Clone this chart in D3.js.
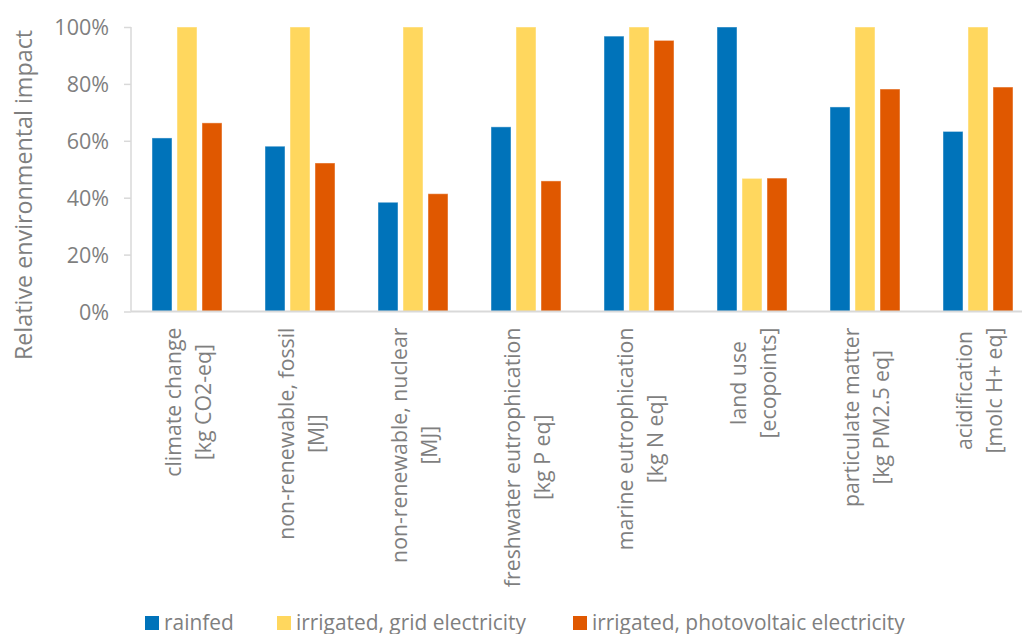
<!DOCTYPE html>
<html>
<head>
<meta charset="utf-8">
<script src="https://cdn.jsdelivr.net/npm/d3@7"></script>
<style>
  html, body { margin: 0; padding: 0; background: #fff; }
  svg { display: block; }
  svg text { font-family: "Open Sans", "Noto Sans", sans-serif; }
</style>
</head>
<body>
<svg id="chart" width="1022" height="634"></svg>
<script>
const categories = [
  ["climate change", "[kg CO2-eq]"],
  ["non-renewable, fossil", "[MJ]"],
  ["non-renewable, nuclear", "[MJ]"],
  ["freshwater eutrophication", "[kg P eq]"],
  ["marine eutrophication", "[kg N eq]"],
  ["land use", "[ecopoints]"],
  ["particulate matter", "[kg PM2.5 eq]"],
  ["acidification", "[molc H+ eq]"]
];
const seriesNames = ["rainfed", "irrigated, grid electricity", "irrigated, photovoltaic electricity"];
const rainfed = [61.0, 58.1, 38.4, 64.9, 96.8, 100, 71.9, 63.3];
const irrigatedGrid = [100, 100, 100, 100, 100, 46.8, 100, 100];
const irrigatedPV = [66.3, 52.2, 41.4, 45.9, 95.3, 46.9, 78.2, 78.9];
const yTicks = [0, 20, 40, 60, 80, 100];
const colors = ["#0073BA", "#FFD75E", "#E05800"];

const FONT = '"Open Sans", "Noto Sans", sans-serif';
const seriesValues = [rainfed, irrigatedGrid, irrigatedPV];
const svg = d3.select("#chart");
const textColor = "#7f7f7f";
const axisColor = "#d9d9d9";

const catKeys = categories.map((c, i) => i);
const x0 = d3.scaleBand().domain(catKeys).range([130.5, 1034.5]).padding(0);
const x1 = d3.scaleBand().domain(d3.range(seriesNames.length)).range([-35, 35]).paddingInner(0.2).paddingOuter(0);
const y = d3.scaleLinear().domain([0, 100]).range([311.5, 27]);

// bars
const groups = svg.append("g").selectAll("g").data(catKeys).join("g")
  .attr("transform", d => `translate(${x0(d) + x0.bandwidth() / 2},0)`);
groups.selectAll("rect")
  .data(ci => seriesValues.map((vals, si) => ({ si, v: vals[ci] })))
  .join("rect")
  .attr("x", d => x1(d.si))
  .attr("width", x1.bandwidth())
  .attr("y", d => y(d.v))
  .attr("height", d => y(0) - y(d.v))
  .attr("fill", d => colors[d.si])
  .attr("stroke", "#ffffff")
  .attr("stroke-opacity", 0.45)
  .attr("stroke-width", 1);

// y axis
const yAxis = d3.axisLeft(y).tickValues(yTicks).tickSize(7).tickPadding(15).tickFormat(d => d + "%");
const gy = svg.append("g").attr("transform", "translate(131,0)").call(yAxis);
gy.attr("font-family", FONT);
gy.select(".domain").attr("stroke", axisColor).attr("stroke-width", 1.5).attr("d", `M0,${y(100)}V${y(0)}`);
gy.selectAll(".tick line").attr("stroke", axisColor).attr("stroke-width", 1.5);
gy.selectAll(".tick text").attr("fill", textColor).attr("font-family", FONT).style("font-size", "21.5px").attr("dy", "0.35em");

// x axis
const xAxis = d3.axisBottom(x0).tickSize(0).tickFormat("");
const gx = svg.append("g").attr("transform", `translate(0,${y(0)})`).call(xAxis);
gx.select(".domain").attr("stroke", axisColor).attr("stroke-width", 2).attr("d", `M131,0H1034.5`);

// x labels: rotated, lines centered on each other, block starts near axis
gx.selectAll(".tick").each(function(ci) {
  const g = d3.select(this);
  g.select("text").remove();
  const lines = categories[ci];
  const t = g.append("g");
  const texts = lines.map((ln, li) =>
    t.append("text").text(ln).attr("fill", textColor).attr("font-family", FONT).style("font-size", "21.3px")
      .attr("text-anchor", "middle"));
  const maxW = d3.max(texts, tx => tx.node().getComputedTextLength());
  const center = 16 + maxW / 2;
  const baselines = [-6, 24];
  texts.forEach((tx, li) => {
    tx.attr("transform", `translate(${baselines[li]},${center}) rotate(-90)`);
  });
});

// y title
svg.append("text")
  .attr("transform", "translate(32,195) rotate(-90)")
  .attr("text-anchor", "middle")
  .attr("fill", textColor)
  .attr("font-family", FONT)
  .style("font-size", "23.3px")
  .text("Relative environmental impact");

// legend
const legendX = [145, 277, 573];
const lg = svg.append("g").selectAll("g").data(seriesNames).join("g")
  .attr("transform", (d, i) => `translate(${legendX[i]},616)`);
lg.append("rect").attr("width", 14).attr("height", 14).attr("fill", (d, i) => colors[i]);
lg.append("text").attr("x", 19).attr("y", 13.5).attr("fill", textColor)
  .attr("font-family", FONT)
  .style("font-size", "20.9px").text(d => d);
</script>
</body>
</html>
